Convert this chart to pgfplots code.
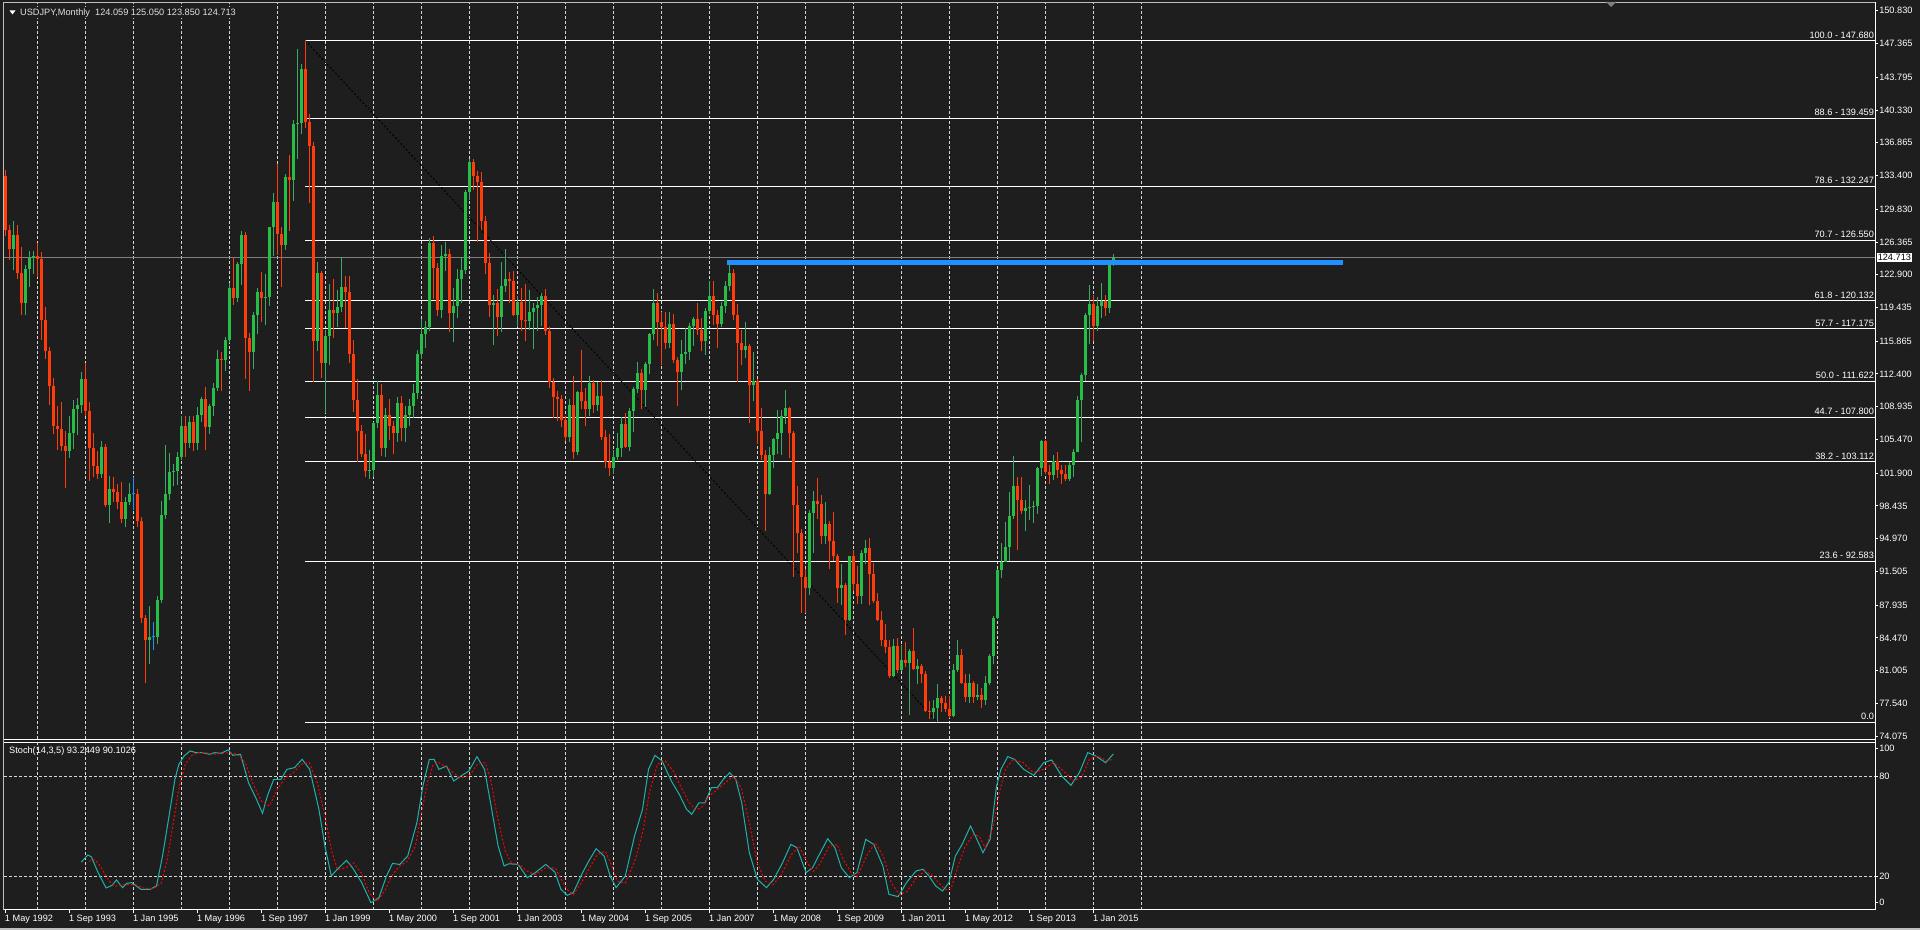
\documentclass[border=0pt]{standalone}
\usepackage{fontspec}
\setmainfont{Liberation Sans}
\newfontfamily\dejavu{DejaVu Sans}
\usepackage{pgfplots}
\usepackage{pgfplotstable}
\pgfplotsset{compat=1.18}
\definecolor{bg}{RGB}{30,30,30}
\definecolor{upc}{RGB}{38,190,70}
\definecolor{upw}{RGB}{60,170,100}
\definecolor{dnc}{RGB}{255,60,10}
\definecolor{dojic}{RGB}{30,144,255}
\definecolor{gridc}{RGB}{215,215,215}
\definecolor{bluel}{RGB}{30,144,255}
\definecolor{stk}{RGB}{32,178,170}
\definecolor{cur}{RGB}{128,128,128}
\definecolor{frame}{RGB}{190,190,190}
\newcommand\lbl{\fontsize{9.2}{11}\selectfont}

\pgfplotstableread{
k o h l c
-32 133.4 134.0 127.0 127.6
-31 127.6 128.2 124.5 125.6
-30 125.6 128.6 123.4 127.1
-29 127.1 128.2 122.5 123.1
-28 123.1 125.8 118.6 119.9
-27 119.9 123.9 118.6 123.5
-26 123.5 125.4 121.6 124.7
-25 124.7 125.4 123.0 124.9
-24 124.9 126.3 122.7 124.6
-23 124.6 125.3 116.0 118.1
-22 118.1 119.5 114.0 114.8
-21 114.8 115.3 109.1 111.1
-20 111.1 112.0 106.0 106.9
-19 106.9 109.0 104.3 106.6
-18 106.6 109.4 104.2 104.8
-17 104.8 106.4 100.3 104.2
-16 104.2 108.0 103.5 106.2
-15 106.2 109.6 104.5 108.7
-14 108.7 109.9 105.9 109.1
-13 109.1 112.6 108.3 111.9
-12 111.9 113.6 108.0 108.5
-11 108.5 109.4 101.1 104.6
-10 104.6 106.2 101.5 102.7
-9 102.7 104.2 101.3 101.8
-8 101.8 105.3 101.4 104.7
-7 104.7 105.0 98.3 98.5
-6 98.5 101.6 96.6 100.2
-5 100.2 101.5 98.9 99.9
-4 99.9 100.8 98.1 98.9
-3 98.9 101.0 96.6 97.0
-2 97.0 99.4 96.2 98.9
-1 98.9 100.9 98.5 99.7
0 99.7 101.5 98.0 99.7
1 99.7 100.2 96.2 96.8
2 96.8 97.3 86.0 86.6
3 86.6 86.9 79.7 84.2
4 84.2 87.8 81.7 84.6
5 84.6 86.1 83.2 84.6
6 84.6 88.9 83.8 88.5
7 88.5 99.0 88.2 97.5
8 97.5 104.9 97.0 99.7
9 99.7 104.0 99.1 102.0
10 102.0 102.9 100.5 102.1
11 102.1 104.1 100.6 103.6
12 103.6 108.0 103.3 106.9
13 106.9 107.9 103.6 105.1
14 105.1 107.9 104.6 107.3
15 107.3 107.9 104.2 105.1
16 105.1 108.9 104.3 108.1
17 108.1 110.0 107.3 109.8
18 109.8 111.0 104.4 106.8
19 106.8 109.2 106.0 109.0
20 109.0 111.4 107.9 110.9
21 110.9 114.9 110.6 114.0
22 114.0 114.7 110.6 113.9
23 113.9 116.3 112.7 116.0
24 116.0 122.0 115.7 121.5
25 121.5 124.7 119.7 120.4
26 120.4 124.3 120.0 124.0
27 124.0 127.5 121.8 127.1
28 127.1 127.4 111.9 116.2
29 116.2 116.7 110.6 114.7
30 114.7 119.0 112.9 118.6
31 118.6 121.5 116.6 121.1
32 121.1 123.2 117.9 120.4
33 120.4 123.0 117.6 120.5
34 120.5 128.0 119.6 127.9
35 127.9 131.6 124.9 130.6
36 130.6 134.6 125.0 127.2
37 127.2 128.0 121.6 126.1
38 126.1 133.6 125.5 133.2
39 133.2 135.6 127.5 132.9
40 132.9 139.3 130.7 138.9
41 138.9 146.8 135.2 139.0
42 139.0 145.2 137.8 144.7
43 144.7 147.68 138.4 139.1
44 139.1 139.9 130.5 136.5
45 136.5 136.9 111.6 115.9
46 115.9 124.2 114.8 123.1
47 123.1 123.3 112.0 113.6
48 113.6 117.0 108.3 116.4
49 116.4 121.9 113.4 119.2
50 119.2 122.4 116.2 118.9
51 118.9 121.3 117.4 119.5
52 119.5 124.7 119.0 121.6
53 121.6 122.8 117.3 121.1
54 121.1 122.8 113.6 114.5
55 114.5 116.0 108.4 109.6
56 109.6 111.9 103.1 106.4
57 106.4 107.0 103.6 103.9
58 103.9 106.0 101.5 102.1
59 102.1 104.4 101.3 102.2
60 102.2 107.3 101.5 107.2
61 107.2 111.7 106.7 110.2
62 110.2 111.3 103.7 104.6
63 104.6 108.8 103.6 108.1
64 108.1 109.7 105.4 106.9
65 106.9 107.4 103.9 106.1
66 106.1 110.0 105.2 109.3
67 109.3 110.1 105.3 106.7
68 106.7 109.0 105.2 108.1
69 108.1 109.8 106.9 109.0
70 109.0 111.3 107.7 110.4
71 110.4 114.9 109.8 114.5
72 114.5 118.2 114.0 116.6
73 116.6 118.0 115.1 117.4
74 117.4 126.8 116.9 126.3
75 126.3 127.0 120.3 123.6
76 123.6 124.1 118.5 119.2
77 119.2 126.1 118.3 124.9
78 124.9 126.4 123.3 125.1
79 125.1 125.6 116.8 118.8
80 118.8 121.5 115.8 119.6
81 119.6 123.5 118.3 122.5
82 122.5 124.8 119.9 123.4
83 123.4 131.9 123.0 131.7
84 131.7 135.2 130.8 134.8
85 134.8 135.1 131.9 133.4
86 133.4 133.9 126.4 132.7
87 132.7 133.8 127.6 128.6
88 128.6 129.1 123.0 124.1
89 124.1 125.2 118.4 119.7
90 119.7 120.8 115.5 119.9
91 119.9 121.4 116.4 118.4
92 118.4 124.2 116.8 121.7
93 121.7 125.6 121.1 122.5
94 122.5 123.2 119.9 122.2
95 122.2 123.3 118.5 118.6
96 118.6 120.6 117.4 120.0
97 120.0 121.5 116.9 118.1
98 118.1 121.9 115.9 118.0
99 118.0 121.3 117.0 119.0
100 119.0 119.9 115.0 119.4
101 119.4 120.5 116.9 119.7
102 119.7 121.0 117.5 120.6
103 120.6 121.4 116.5 116.9
104 116.9 117.4 110.9 111.6
105 111.6 112.0 107.7 110.0
106 110.0 110.6 107.4 109.7
107 109.7 110.2 106.8 107.5
108 107.5 107.9 105.3 105.7
109 105.7 109.7 105.2 109.1
110 109.1 112.2 103.4 104.1
111 104.1 110.6 103.8 110.5
112 110.5 114.9 108.7 109.5
113 109.5 110.9 106.9 108.7
114 108.7 112.2 107.9 111.4
115 111.4 111.8 108.3 109.1
116 109.1 111.5 108.5 110.1
117 110.1 111.8 105.4 105.7
118 105.7 106.5 102.4 103.1
119 103.1 106.0 101.6 102.5
120 102.5 104.3 101.8 103.6
121 103.6 106.1 103.3 104.6
122 104.6 107.8 103.6 107.1
123 107.1 108.3 104.6 104.7
124 104.7 108.8 104.2 108.5
125 108.5 111.0 106.3 110.8
126 110.8 113.7 110.4 112.5
127 112.5 112.9 108.7 110.7
128 110.7 113.7 108.9 113.5
129 113.5 116.7 112.4 116.6
130 116.6 121.4 116.0 119.9
131 119.9 121.0 115.4 117.9
132 117.9 119.0 113.4 117.4
133 117.4 119.0 115.0 115.7
134 115.7 119.0 115.2 117.7
135 117.7 118.7 113.6 113.9
136 113.9 114.2 109.0 112.6
137 112.6 116.0 110.7 114.5
138 114.5 117.3 113.5 114.7
139 114.7 117.8 113.9 117.5
140 117.5 118.4 115.4 118.2
141 118.2 119.9 116.5 117.1
142 117.1 118.3 114.8 115.9
143 115.9 119.4 114.4 119.1
144 119.1 122.2 118.7 120.7
145 120.7 122.2 117.6 118.6
146 118.6 119.2 115.2 117.7
147 117.7 120.0 117.4 119.6
148 119.6 122.2 118.9 121.7
149 121.7 124.14 121.2 123.1
150 123.1 123.5 118.1 118.6
151 118.6 119.8 111.6 115.7
152 115.7 117.1 113.4 114.9
153 114.9 117.9 114.1 115.4
154 115.4 115.6 107.2 111.2
155 111.2 114.7 109.5 111.7
156 111.7 111.9 105.0 106.4
157 106.4 108.8 103.3 103.8
158 103.8 104.4 95.8 99.7
159 99.7 104.7 99.6 103.8
160 103.8 105.6 102.5 105.5
161 105.5 108.6 103.9 106.2
162 106.2 108.6 103.8 108.0
163 108.0 110.7 107.1 108.8
164 108.8 108.9 103.5 106.1
165 106.1 106.4 90.9 98.5
166 98.5 100.5 93.5 95.6
167 95.6 96.0 87.1 90.9
168 90.9 91.8 87.1 89.7
169 89.7 98.0 89.0 97.7
170 97.7 100.0 93.5 99.0
171 99.0 101.4 97.0 98.6
172 98.6 99.6 94.4 95.2
173 95.2 98.9 94.4 96.5
174 96.5 96.8 91.8 94.7
175 94.7 97.8 92.6 93.1
176 93.1 93.3 88.2 89.7
177 89.7 92.3 88.0 90.1
178 90.1 90.3 84.8 86.4
179 86.4 93.1 86.3 93.1
180 93.1 93.8 89.4 90.2
181 90.2 92.1 88.1 88.9
182 88.9 93.8 88.1 93.5
183 93.5 94.8 92.3 94.0
184 94.0 95.0 88.0 91.2
185 91.2 92.4 88.2 88.4
186 88.4 89.2 86.3 86.4
187 86.4 87.3 83.6 84.2
188 84.2 85.9 82.9 83.5
189 83.5 84.2 80.2 80.4
190 80.4 84.4 80.3 83.6
191 83.6 84.5 80.8 81.1
192 81.1 83.7 81.0 82.1
193 82.1 84.0 81.4 81.8
194 81.8 83.3 76.3 83.1
195 83.1 85.5 81.1 81.2
196 81.2 82.2 79.6 81.5
197 81.5 81.7 79.7 80.6
198 80.6 81.0 76.6 76.7
199 76.7 77.8 75.9 76.6
200 76.6 77.9 75.9 77.1
201 77.1 79.6 75.564 78.1
202 78.1 78.3 76.6 77.6
203 77.6 78.3 76.6 76.9
204 76.9 78.3 76.0 76.2
205 76.2 81.7 76.1 81.1
206 81.1 84.2 80.9 82.7
207 82.7 83.3 79.6 79.7
208 79.7 80.6 77.7 78.2
209 78.2 80.6 77.6 79.7
210 79.7 79.9 77.6 78.2
211 78.2 79.6 77.9 78.4
212 78.4 79.2 77.1 77.9
213 77.9 80.4 77.4 79.7
214 79.7 82.8 79.5 82.5
215 82.5 86.8 81.7 86.6
216 86.6 91.8 86.5 91.7
217 91.7 94.5 90.8 92.5
218 92.5 96.7 92.5 94.1
219 94.1 99.9 92.6 97.4
220 97.4 103.7 97.0 100.5
221 100.5 101.5 93.8 99.1
222 99.1 101.5 97.6 97.9
223 97.9 99.1 95.8 98.2
224 98.2 100.6 96.9 98.3
225 98.3 99.0 96.6 98.4
226 98.4 102.6 97.6 102.4
227 102.4 105.4 101.6 105.3
228 105.3 105.4 101.8 102.0
229 102.0 102.8 100.8 101.7
230 101.7 103.8 101.2 103.2
231 103.2 104.1 101.4 102.2
232 102.2 102.8 100.8 101.8
233 101.8 102.8 101.1 101.3
234 101.3 103.1 101.1 102.8
235 102.8 104.5 101.5 104.1
236 104.1 110.1 104.1 109.6
237 109.6 112.5 105.2 112.3
238 112.3 118.9 111.7 118.6
239 118.6 121.85 115.6 119.8
240 119.8 120.8 115.85 117.5
241 117.5 120.5 116.9 119.6
242 119.6 122.0 118.3 120.1
243 120.1 120.8 118.5 119.4
244 119.4 124.45 118.9 124.1
245 124.1 125.05 123.85 124.713
}\ohlc

\pgfplotsset{
  mtbase/.style={
    scale only axis, width=1871pt,
    xmin=-32.325, xmax=435.425,
    axis line style={draw=none},
    tick style={draw=white, line width=1pt},
    tick align=outside, major tick length=3pt,
    clip=false,
  },
  gridl/.style={gridc, line width=1pt, dash pattern=on 3pt off 2pt},
}

\begin{document}
\begin{tikzpicture}[x=1pt,y=1pt]
\fill[bg] (0,0) rectangle (1920,930);
\path[use as bounding box] (0,0) rectangle (1920,930);

% ---------------- main price panel ----------------
\begin{axis}[mtbase,
  at={(4pt,927pt)}, anchor=north west, height=736pt,
  ymin=73.768, ymax=151.659,
  xtick=\empty,
  ytick={74.075,77.540,81.005,84.470,87.935,91.505,94.970,98.435,101.900,105.470,108.935,112.400,115.865,119.435,122.900,126.365,129.830,133.400,136.865,140.330,143.795,147.365,150.830},
  yticklabels={74.075,77.540,81.005,84.470,87.935,91.505,94.970,98.435,101.900,105.470,108.935,112.400,115.865,119.435,122.900,126.365,129.830,133.400,136.865,140.330,143.795,147.365,150.830},
  ytick pos=right, yticklabel pos=right,
  yticklabel style={font=\lbl, text=white, anchor=west, inner sep=0pt, xshift=1pt},
]
\pgfplotsinvokeforeach{-24,-12,...,252}{
  \addplot[gridl, forget plot] coordinates {(#1,73.768) (#1,151.659)};
}
% Fibonacci levels
\pgfplotsinvokeforeach{147.680,139.459,132.247,126.550,120.132,117.175,111.622,107.800,103.112,92.583,75.564}{
  \addplot[white, line width=1pt, forget plot] coordinates {(43,#1) (435.425,#1)};
}
% current price line
\addplot[cur, line width=1pt] coordinates {(-32.325,124.713) (435.425,124.713)};
% fibo trend line
\addplot[black, line width=1pt, dash pattern=on 2pt off 2pt] coordinates {(43,147.68) (201,75.564)};

% wicks
\addplot[draw=none, mark=none, forget plot,
  restrict expr to domain={\thisrow{c}-\thisrow{o}}{0.0001:1000},
  error bars/.cd, y dir=plus, y explicit, error mark=none,
  error bar style={draw=upw, line width=1pt}]
  table[x=k, y=l, y error expr=\thisrow{h}-\thisrow{l}] {\ohlc};
\addplot[draw=none, mark=none, forget plot,
  restrict expr to domain={\thisrow{c}-\thisrow{o}}{-1000:-0.0001},
  error bars/.cd, y dir=plus, y explicit, error mark=none,
  error bar style={draw=dnc, line width=1pt}]
  table[x=k, y=l, y error expr=\thisrow{h}-\thisrow{l}] {\ohlc};
\addplot[draw=none, mark=none, forget plot,
  restrict expr to domain={\thisrow{c}-\thisrow{o}}{-0.00005:0.00005},
  error bars/.cd, y dir=plus, y explicit, error mark=none,
  error bar style={draw=dojic, line width=1pt}]
  table[x=k, y=l, y error expr=\thisrow{h}-\thisrow{l}] {\ohlc};
% bodies
\addplot[draw=none, mark=none, forget plot,
  restrict expr to domain={\thisrow{c}-\thisrow{o}}{0.0001:1000},
  error bars/.cd, y dir=plus, y explicit, error mark=none,
  error bar style={draw=upc, line width=3pt}]
  table[x=k, y=o, y error expr=\thisrow{c}-\thisrow{o}] {\ohlc};
\addplot[draw=none, mark=none, forget plot,
  restrict expr to domain={\thisrow{c}-\thisrow{o}}{-1000:-0.0001},
  error bars/.cd, y dir=plus, y explicit, error mark=none,
  error bar style={draw=dnc, line width=3pt}]
  table[x=k, y=c, y error expr=\thisrow{o}-\thisrow{c}] {\ohlc};
\addplot[dojic, only marks, mark=-, mark size=1.5pt, mark options={line width=1pt}, forget plot,
  restrict expr to domain={\thisrow{c}-\thisrow{o}}{-0.00005:0.00005}]
  table[x=k, y=o] {\ohlc};

% blue resistance line
\addplot[bluel, line width=4.7pt] coordinates {(148.4,124.2) (302.4,124.2)};

% fib labels
\begin{scope}[every node/.style={font=\lbl, text=white, anchor=base east, inner sep=0pt, yshift=2.5pt}]
\node at (axis cs:435.2,147.680) {100.0 - 147.680};
\node at (axis cs:435.2,139.459) {88.6 - 139.459};
\node at (axis cs:435.2,132.247) {78.6 - 132.247};
\node at (axis cs:435.2,126.550) {70.7 - 126.550};
\node at (axis cs:435.2,120.132) {61.8 - 120.132};
\node at (axis cs:435.2,117.175) {57.7 - 117.175};
\node at (axis cs:435.2,111.622) {50.0 - 111.622};
\node at (axis cs:435.2,107.800) {44.7 - 107.800};
\node at (axis cs:435.2,103.112) {38.2 - 103.112};
\node at (axis cs:435.2,92.583) {23.6 - 92.583};
\node at (axis cs:435.2,75.564) {0.0};
\end{scope}
\node[font=\lbl, fill=white, text=black, anchor=west, inner sep=1pt, xshift=1.5pt] at (axis cs:435.425,124.713) {124.713};
\end{axis}

% ---------------- stochastic panel ----------------
\begin{axis}[mtbase,
  at={(4pt,187.4pt)}, anchor=north west, height=167.1pt,
  ymin=0, ymax=100,
  xtick={-32,-16,...,240},
  xticklabels={1 May 1992,1 Sep 1993,1 Jan 1995,1 May 1996,1 Sep 1997,1 Jan 1999,1 May 2000,1 Sep 2001,1 Jan 2003,1 May 2004,1 Sep 2005,1 Jan 2007,1 May 2008,1 Sep 2009,1 Jan 2011,1 May 2012,1 Sep 2013,1 Jan 2015},
  xtick pos=left, xticklabel pos=left,
  xticklabel style={font=\lbl, text=white, anchor=north west, inner sep=0pt, xshift=-0.5pt, yshift=-2pt},
  ytick={4.2,20,80,96.3}, yticklabels={0,20,80,100},
  ytick pos=right, yticklabel pos=right,
  yticklabel style={font=\lbl, text=white, anchor=west, inner sep=0pt, xshift=1pt},
]
\pgfplotsinvokeforeach{-24,-12,...,252}{
  \addplot[gridl, forget plot] coordinates {(#1,0) (#1,100)};
}
\addplot[gridl] coordinates {(-32.325,20) (435.425,20)};
\addplot[gridl] coordinates {(-32.325,80) (435.425,80)};
% %K main line
\addplot[stk, line width=1pt] coordinates {
(-13,28.5) (-11.4,32.7) (-10.5,31.7) (-8.8,22.2) (-6.8,13.0) (-5.3,14.6) (-4.2,17.8) (-2.7,13.2) (-1.6,15.8) (-0.4,16.2)
(1.9,12.2) (4.2,12.2) (5.8,14.2) (7.3,32.1) (8.8,54.1) (10.4,78.0) (11.4,87.0) (12.7,92.0) (14.2,95.0) (15.7,94.0)
(17.2,94.0) (19.1,93.0) (20.3,94.0) (21.9,93.6) (23.7,95.6) (24.9,92.4) (26.8,93.0) (28.8,76.0) (30.8,66.0) (32.3,57.7)
(33.5,68.0) (35.1,78.0) (36.9,78.0) (38.4,84.0) (40.3,85.0) (42.2,90.0) (44.1,84.0) (46.4,60.1) (47.9,38.1) (49.5,20.2)
(51.0,24.2) (53.3,29.5) (54.8,25.1) (57.1,16.2) (59.4,4.2) (61.4,7.2) (63.3,20.2) (64.8,27.7) (66.6,27.1) (68.6,32.1)
(70.9,52.1) (72.4,74.0) (74.0,90.0) (75.2,90.0) (76.4,84.0) (78.3,86.0) (80.1,77.0) (81.9,80.0) (83.9,83.0) (85.9,91.6)
(87.8,84.0) (89.3,64.0) (91.2,38.1) (92.7,26.2) (93.9,27.5) (96.2,27.1) (98.5,19.2) (100.5,22.2) (103.1,27.1) (105.4,22.5)
(106.9,12.2) (108.5,8.6) (110.0,10.2) (112.3,22.2) (114.1,30.1) (115.7,36.5) (117.7,32.1) (119.2,20.2) (120.7,13.2) (123.0,20.2)
(125.3,44.1) (127.3,60.1) (128.8,84.0) (130.4,92.4) (132.2,89.0) (134.5,77.0) (136.5,69.0) (138.3,60.1) (139.6,57.1) (141.4,64.0)
(142.9,64.0) (144.5,73.0) (146.0,73.0) (147.5,78.0) (149.1,82.0) (150.6,78.0) (152.1,64.0) (154.0,34.1) (156.0,18.2) (158.3,13.2)
(160.1,18.2) (162.1,27.1) (164.4,39.1) (165.9,37.1) (168.2,22.2) (169.8,25.1) (171.3,32.1) (173.6,42.5) (175.4,37.1) (177.0,25.1)
(179.0,19.2) (180.9,22.2) (183.1,42.1) (185.1,39.1) (187.4,26.1) (188.9,9.2) (191.2,7.8) (193.3,16.2) (195.7,23.2) (197.4,24.2)
(198.9,20.2) (200.6,14.2) (202.3,11.2) (203.9,16.2) (205.5,32.1) (207.2,39.1) (209.3,50.1) (210.9,42.1) (212.4,34.1) (214.2,42.1)
(215.8,74.0) (216.9,84.0) (218.6,91.6) (220.3,90.0) (222.6,84.0) (225.1,80.4) (227.6,88.0) (229.6,89.6) (232.1,80.0) (234.4,74.4)
(236.5,82.0) (238.6,94.0) (240.6,92.0) (243.1,88.0) (245,93.2)
};
% %D signal line
\addplot[red, line width=1pt, dash pattern=on 2pt off 2pt] coordinates {
(-11,29) (-9.5,30) (-8,25) (-6,17) (-4.5,14) (-3,15) (-1.5,15) (0.5,15) (2.5,13) (5,12.5)
(7,16) (8.5,30) (10,52) (11.5,74) (13,87) (14.5,92) (16,94) (18,94) (20,93) (22,93.5)
(24,94) (26,93) (28,88) (30,75) (32,65) (34,62) (36,72) (38,79) (40,82) (42,87)
(44,88) (46,76) (48,55) (49.5,36) (51,24) (53,25) (55,28) (57,22) (59,10) (61,5)
(63,12) (64.5,20) (66.5,26) (68.5,29) (70.5,38) (72,57) (73.5,76) (75,87) (76.5,88) (78.5,85)
(80.5,81) (82,79) (84,80) (86,87) (88,88) (89.5,76) (91,56) (93,35) (94.5,28) (96.5,27)
(98.5,23) (100.5,21) (103,25) (105.5,25) (107,18) (108.5,12) (110,9) (112,16) (114,25) (116,33)
(118,35) (119.5,27) (121,17) (123,16) (125.5,30) (127.5,48) (129,70) (131,87) (133,89) (135,83)
(137,73) (139,64) (140.5,60) (142,61) (144,68) (146,72) (148,76) (150,80) (152,73) (154,52)
(156,28) (158,17) (160,15) (162,21) (164.5,33) (166.5,38) (168.5,28) (170,23) (171.5,27) (174,38)
(176,39) (177.5,30) (179.5,22) (181,20) (183.5,33) (185.5,40) (187.5,32) (189.5,16) (191.5,9) (193.5,11)
(196,20) (198,23) (199.5,21) (201,17) (203,12) (204.5,13) (206,25) (208,38) (210,45) (211.5,44)
(213,37) (215,50) (216.5,70) (218,84) (220,90) (222.5,88) (225,82) (227.5,84) (230,88) (232.5,83)
(235,77) (237,79) (239,90) (241,92) (243.5,89) (245,90.1)
};
\end{axis}

% ---------------- frames and header texts ----------------
\draw[frame, line width=1pt] (3.5,927.5) -- (1875.5,927.5);
\draw[frame, line width=1pt] (3.5,927.5) -- (3.5,20.3);
\draw[white, line width=1pt] (3.5,191) -- (1875.5,191);
\draw[white, line width=1pt] (3.5,188) -- (1875.5,188);
\draw[white, line width=1pt] (3.5,20.3) -- (1875.5,20.3);
\draw[white, line width=1pt] (1875.5,927.5) -- (1875.5,20.3);
\fill[frame] (0,0) rectangle (1920,2.5);
\node[anchor=west, inner sep=1pt, fill=bg, text=white!88!black, font=\lbl] at (19,917.3) {USDJPY,Monthly\ \ 124.059 125.050 123.850 124.713};
\fill[bg] (8,913) rectangle (18,921);
\fill[white] (9.5,919.5) -- (15.5,919.5) -- (12.5,915.5) -- cycle;
\node[anchor=west, inner sep=0pt, text=white, font=\lbl] at (9,179.3) {Stoch(14,3,5) 93.2449 90.1026};
\fill[gray] (1606,928) -- (1616,928) -- (1611,923) -- cycle;
\end{tikzpicture}
\end{document}
